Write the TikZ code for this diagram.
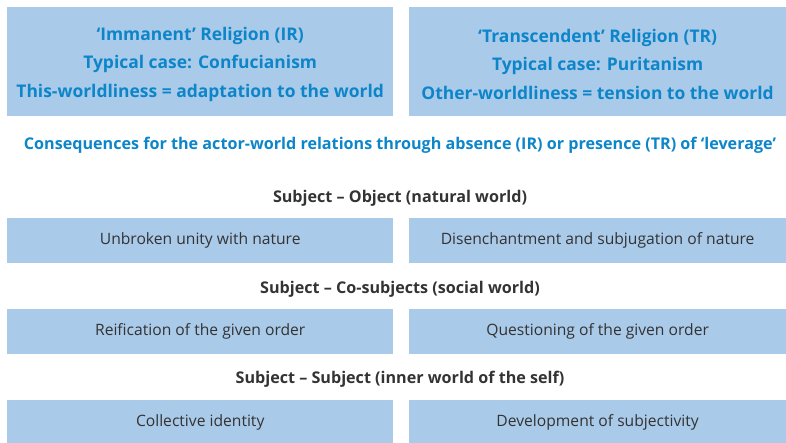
\documentclass[tikz,border=0pt]{standalone}
\usepackage{fontspec}
\setmainfont{Open Sans}
\usetikzlibrary{positioning}
\definecolor{panel}{HTML}{AACAE9}
\definecolor{accent}{HTML}{0C85C9}
\definecolor{ink}{HTML}{333333}
\tikzset{
  every node/.style={text=ink},
  headbox/.style={fill=panel,minimum width=386bp,minimum height=109bp,align=center,inner sep=0pt,font=\fontsize{17.5}{28.5}\selectfont\bfseries,text=accent},
  rowbox/.style={fill=panel,minimum width=386bp,minimum height=45bp,inner sep=0pt,font=\fontsize{15.7}{18}\selectfont},
  axis/.style={inner sep=0pt,font=\fontsize{16.2}{18}\selectfont\bfseries},
  lead/.style={inner sep=0pt,font=\fontsize{16.2}{18}\selectfont\bfseries,text=accent},
}

\begin{document}
\begin{tikzpicture}[x=1bp,y=-1bp]
\useasboundingbox (0,0) rectangle (786,443);

% the two types of religion
\node[headbox,anchor=north west] (ir) at (7,7)
{\rule{0pt}{8bp}\\[-18bp]‘Immanent’ Religion (IR)\\Typical case: Confucianism\\This-worldliness = adaptation to the world};
\node[headbox,minimum width=378bp,right=15bp of ir] (tr)
{\rule{0pt}{8bp}\\[-18bp]‘Transcendent’ Religion (TR)\\Typical case: Puritanism\\Other-worldliness = tension to the world};

\node[lead] (conseq) at (400,145) {Consequences for the actor-world relations through absence (IR) or presence (TR) of ‘leverage’};

% natural world
\node[axis] (natural) at (400,198) {Subject – Object (natural world)};
\node[rowbox,anchor=north west] (unity) at (7,218) {Unbroken unity with nature};
\node[rowbox,minimum width=378bp,right=15bp of unity] (disench) {Disenchantment and subjugation of nature};

% social world
\node[axis] (social) at (400,289) {Subject – Co-subjects (social world)};
\node[rowbox,anchor=north west] (reific) at (7,309) {Reification of the given order};
\node[rowbox,minimum width=378bp,right=15bp of reific] (question) {Questioning of the given order};

% inner world
\node[axis] (inner) at (400,379) {Subject – Subject (inner world of the self)};
\node[rowbox,anchor=north west] (collect) at (7,400) {Collective identity};
\node[rowbox,minimum width=378bp,right=15bp of collect] (develop) {Development of subjectivity};

\end{tikzpicture}
\end{document}
